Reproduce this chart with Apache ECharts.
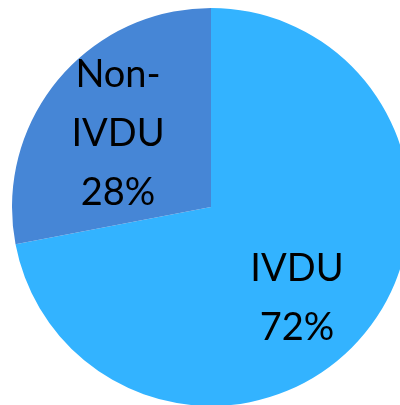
<!DOCTYPE html>
<html>
<head>
<meta charset="utf-8">
<script src="https://cdn.jsdelivr.net/npm/echarts@6/dist/echarts.min.js"></script>
<style>
  html, body { margin: 0; padding: 0; background: #fff; }
  #main { width: 400px; height: 405px; }
</style>
</head>
<body>
<div id="main"></div>
<script>
// 数据
var names = ['IVDU', 'Non-IVDU'];
var labelText = ['IVDU', 'Non-\nIVDU'];
var values = [72, 28];
var colors = ['#33B3FF', '#4686D6'];
var labelOffsets = [[7, 26], [-14, -8]];

var data = [];
for (var i = 0; i < names.length; i++) {
    data.push({
        name: names[i],
        value: values[i],
        itemStyle: { color: colors[i] },
        label: { offset: labelOffsets[i] }
    });
}

var myChart = echarts.init(document.getElementById('main'));
myChart.setOption({
    animation: false,
    series: [{
        type: 'pie',
        center: [211, 207],
        radius: 199,
        startAngle: 90,
        clockwise: true,
        silent: true,
        itemStyle: { borderWidth: 0 },
        label: {
            show: true,
            position: 'inside',
            color: '#000',
            fontFamily: 'Lato',
            fontSize: 38,
            lineHeight: 59,
            textBorderWidth: 0,
            align: 'center',
            formatter: function (p) {
                return labelText[p.dataIndex] + '\n' + p.value + '%';
            }
        },
        labelLine: { show: false },
        data: data
    }]
});
</script>
</body>
</html>
